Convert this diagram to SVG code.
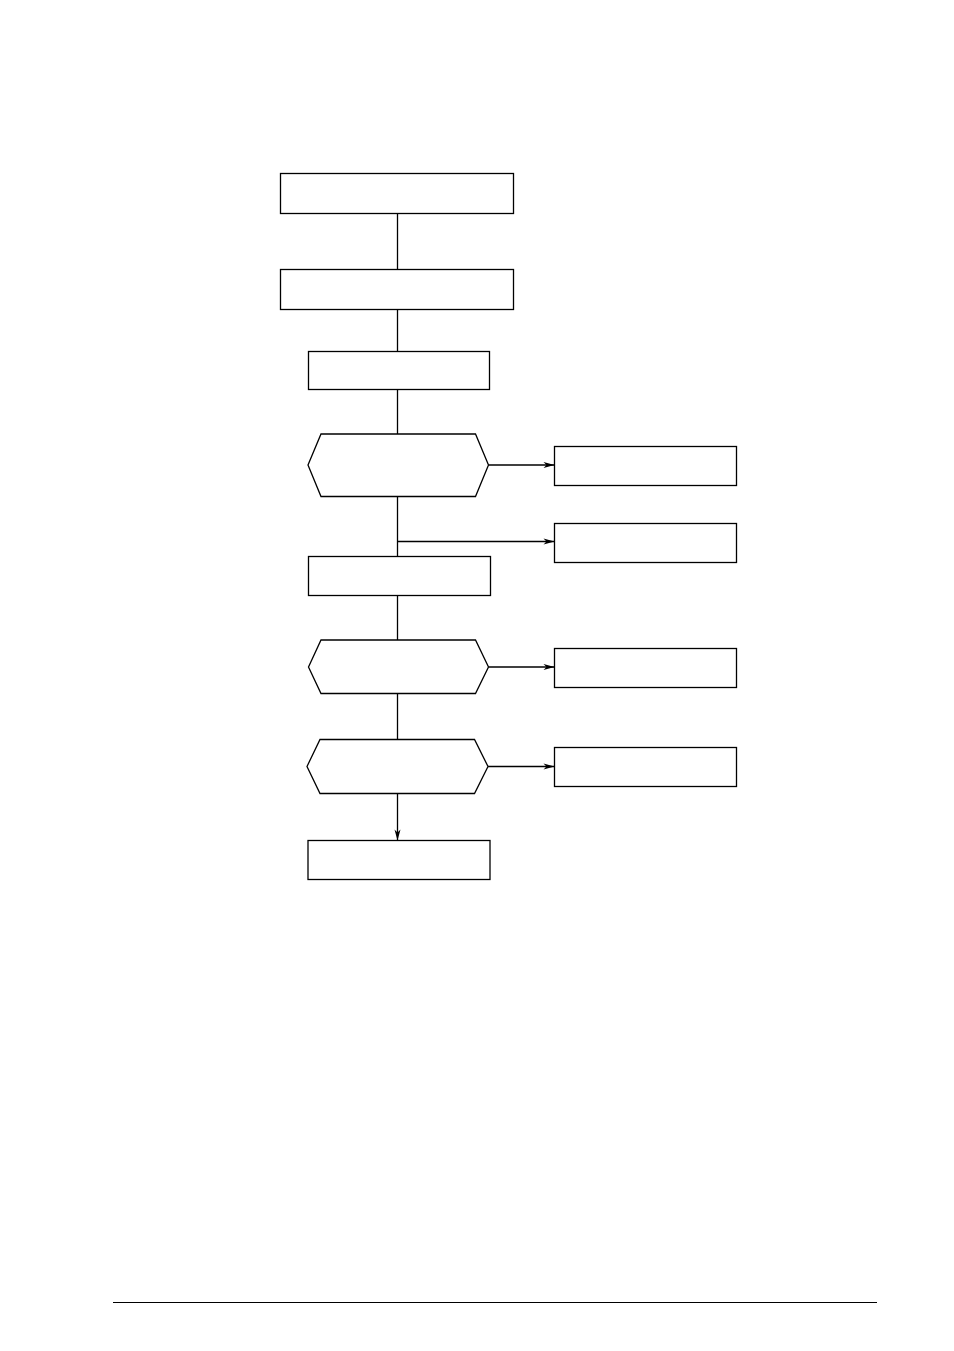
<svg xmlns="http://www.w3.org/2000/svg" width="954" height="1351" viewBox="0 0 954 1351">
<style>
.n{fill:#fff;stroke:#000;stroke-width:1.3}
.c{fill:none;stroke:#000;stroke-width:1.3}
</style>
<defs>
<marker id="ah" markerUnits="userSpaceOnUse" markerWidth="14" markerHeight="10" refX="12" refY="5" orient="auto">
<path d="M12,5 L1,2 L4,5 L1,8 Z" fill="#000"/>
</marker>
</defs>
<rect width="954" height="1351" fill="#fff"/>
<g id="connectors">
<line class="c" x1="397.5" y1="213.5" x2="397.5" y2="269.5"/>
<line class="c" x1="397.5" y1="309.5" x2="397.5" y2="351.5"/>
<line class="c" x1="397.5" y1="389.5" x2="397.5" y2="434"/>
<line class="c" x1="488.5" y1="465" x2="554.5" y2="465" marker-end="url(#ah)"/>
<line class="c" x1="397.5" y1="496.5" x2="397.5" y2="556.5"/>
<line class="c" x1="397.5" y1="541.5" x2="554.5" y2="541.5" marker-end="url(#ah)"/>
<line class="c" x1="397.5" y1="595.5" x2="397.5" y2="640"/>
<line class="c" x1="488.5" y1="667" x2="554.5" y2="667" marker-end="url(#ah)"/>
<line class="c" x1="397.5" y1="693.5" x2="397.5" y2="739.5"/>
<line class="c" x1="488" y1="766.5" x2="554.5" y2="766.5" marker-end="url(#ah)"/>
<line class="c" x1="397.5" y1="793.5" x2="397.5" y2="840.5" marker-end="url(#ah)"/>
</g>
<g id="box1"><rect class="n" x="280.5" y="173.5" width="233" height="40"/></g>
<g id="box2"><rect class="n" x="280.5" y="269.5" width="233" height="40"/></g>
<g id="box3"><rect class="n" x="308.5" y="351.5" width="181" height="38"/></g>
<g id="decision1"><polygon class="n" points="308,465 321,434 475.5,434 488.5,465 475.5,496.5 321,496.5"/></g>
<g id="side1"><rect class="n" x="554.5" y="446.5" width="182" height="39"/></g>
<g id="side2"><rect class="n" x="554.5" y="523.5" width="182" height="39"/></g>
<g id="box4"><rect class="n" x="308.5" y="556.5" width="182" height="39"/></g>
<g id="decision2"><polygon class="n" points="308.5,667 321,640 475.5,640 488.5,667 475.5,693.5 321,693.5"/></g>
<g id="side3"><rect class="n" x="554.5" y="648.5" width="182" height="39"/></g>
<g id="decision3"><polygon class="n" points="307,766.5 320,739.5 474.5,739.5 488,766.5 474.5,793.5 320,793.5"/></g>
<g id="side4"><rect class="n" x="554.5" y="747.5" width="182" height="39"/></g>
<g id="box5"><rect class="n" x="308" y="840.5" width="182" height="39" stroke="#555"/></g>
<line x1="113" y1="1302.5" x2="877" y2="1302.5" stroke="#000" stroke-width="1.2"/>
</svg>
